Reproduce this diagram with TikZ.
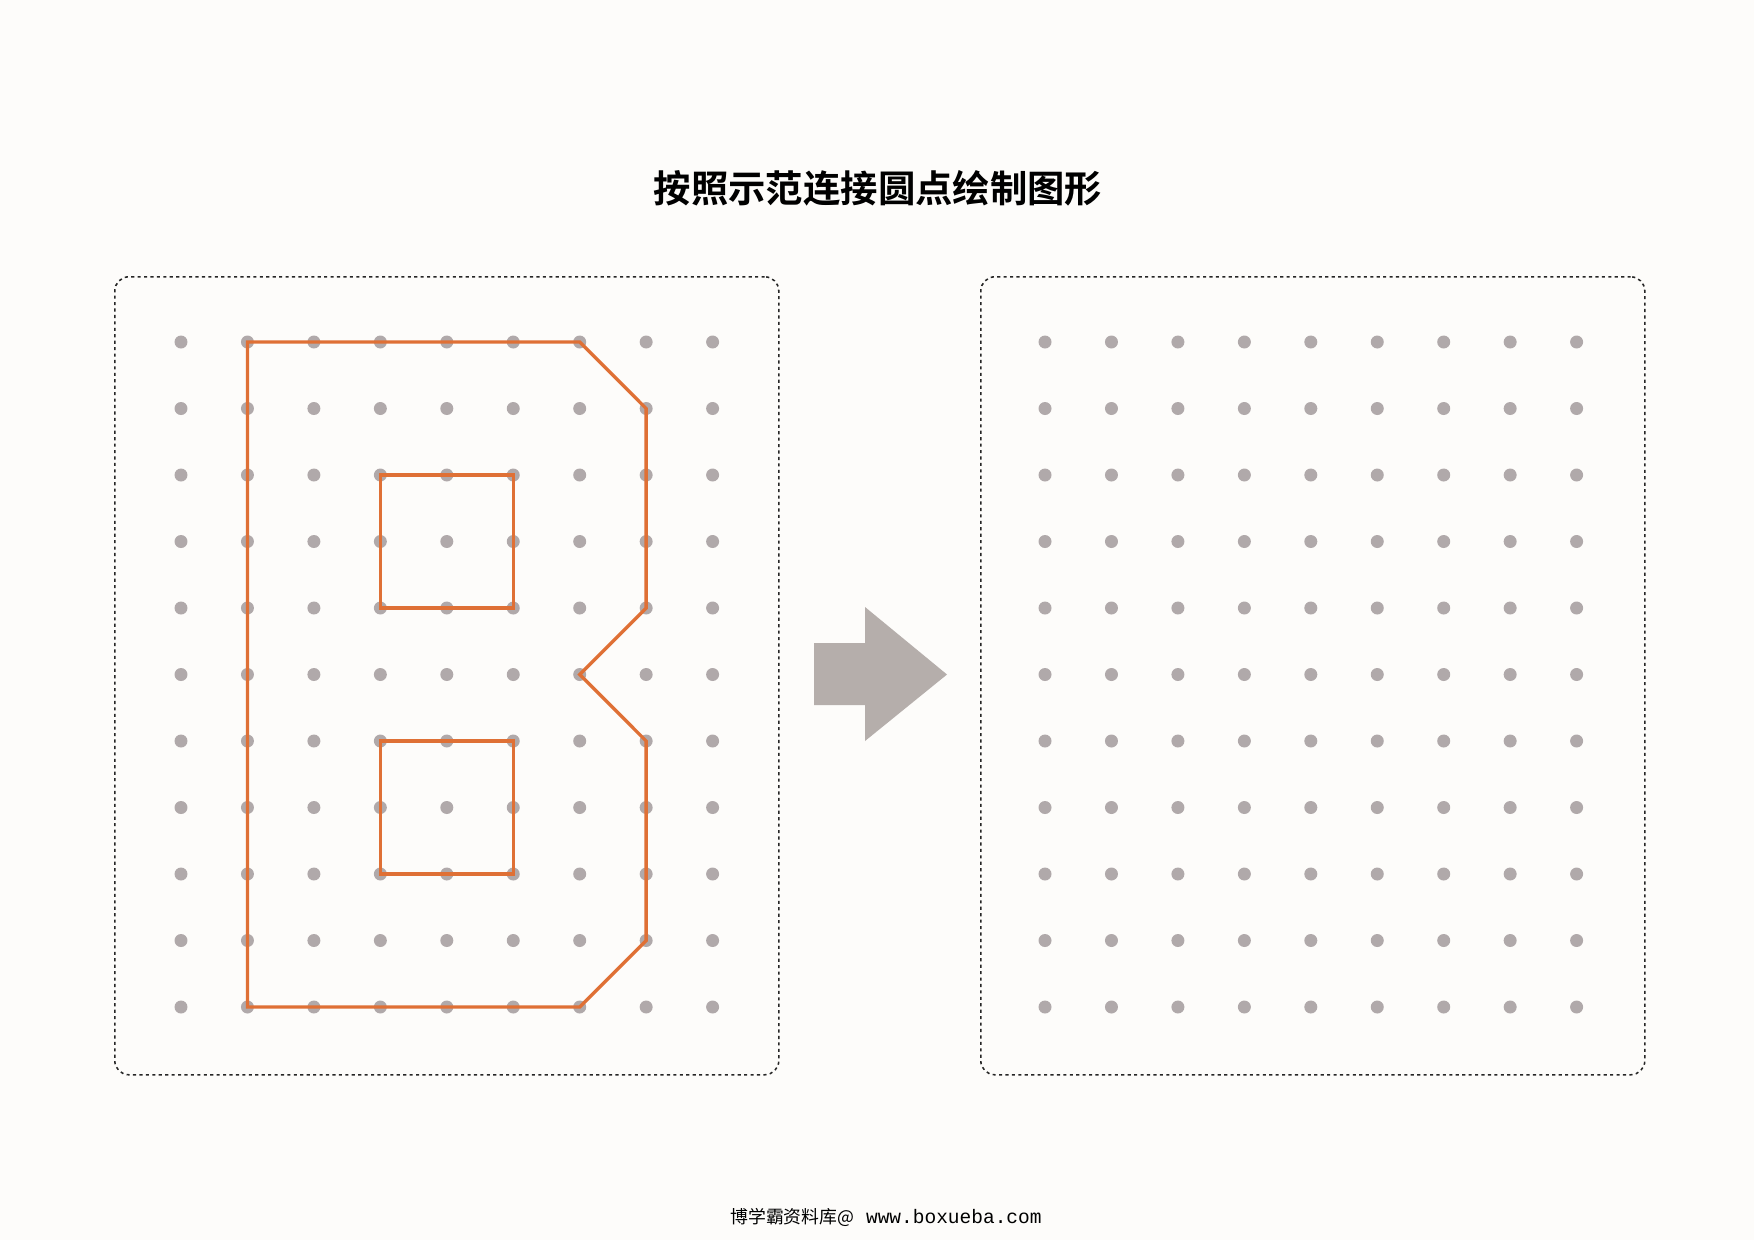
\documentclass[tikz,border=0pt]{standalone}
\usepackage{fontspec}
\newfontfamily\cjk{Noto Sans CJK SC}
\newfontfamily\cjkb{Noto Sans CJK SC Bold}
\newfontfamily\urlfont{Liberation Mono}
\definecolor{bg}{HTML}{FDFCFA}
\definecolor{dotgrey}{HTML}{B0A9AA}
\definecolor{arrowgrey}{HTML}{B5AEAB}
\definecolor{orangeline}{HTML}{DF7035}
\tikzset{
  gdot/.style={circle,fill=dotgrey,draw=none,minimum size=0.22cm,inner sep=0pt},
  panel/.style={draw=black!85,line width=0.75pt,dash pattern=on 1.5pt off 1.6pt,rounded corners=6.8pt},
  bline/.style={draw=orangeline,line width=1.6pt,line join=miter},
  bigarrow/.style={fill=arrowgrey,draw=none}
}
\begin{document}
\begin{tikzpicture}[x=0.0169333cm,y=-0.0169333cm]
\useasboundingbox (0,0) rectangle (1754,1240);
\fill[bg] (0,0) rectangle (1754,1240);
% title
\node (title) at (878,188) {\cjkb\fontsize{18pt}{22pt}\selectfont 按照示范连接圆点绘制图形};
% footer
\node (footer) at (886,1217) {\cjk\fontsize{8.6pt}{10pt}\selectfont 博学霸资料库@\urlfont\fontsize{9.4pt}{10pt}\selectfont\ www.boxueba.com};
% panels
\node[panel,minimum width=664*0.0169333cm,minimum height=798*0.0169333cm,anchor=north west] (leftpanel) at (114,276) {};
\node[panel,minimum width=664*0.0169333cm,minimum height=798*0.0169333cm,anchor=north west] (rightpanel) at (980,276) {};
% dots
\foreach \i in {0,...,8}{
  \foreach \j in {0,...,10}{
    \node[gdot] (L-\i-\j) at ({181+66.45*\i},{342+66.5*\j}) {};
    \node[gdot] (R-\i-\j) at ({1045+66.45*\i},{342+66.5*\j}) {};
  }
}
% letter B
\draw[bline] (L-1-0.center) -- (L-6-0.center) -- (L-7-1.center) -- (L-7-4.center) -- (L-6-5.center) -- (L-7-6.center) -- (L-7-9.center) -- (L-6-10.center) -- (L-1-10.center) -- cycle;
\draw[bline] (L-3-2.center) -- (L-5-2.center) -- (L-5-4.center) -- (L-3-4.center) -- cycle;
\draw[bline] (L-3-6.center) -- (L-5-6.center) -- (L-5-8.center) -- (L-3-8.center) -- cycle;
% arrow
\coordinate (arrowtip) at (947,674.5);
\fill[bigarrow] (814,643) -- (865,643) -- (865,607) -- (arrowtip) -- (865,741) -- (865,705) -- (814,705) -- cycle;
\end{tikzpicture}
\end{document}
